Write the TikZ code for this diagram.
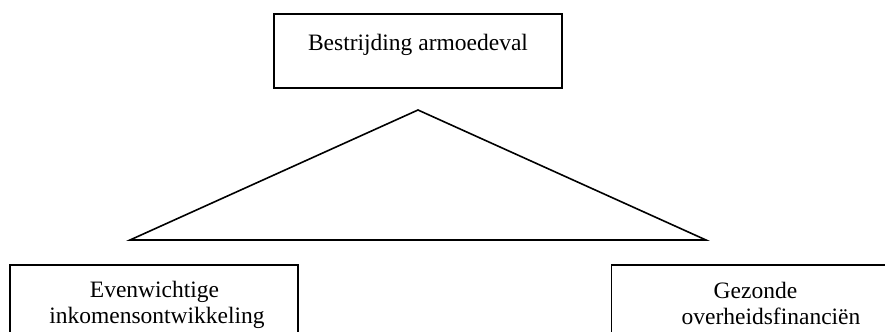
\documentclass[tikz,border=0pt]{standalone}
\usepackage{fontspec}
\setmainfont{Liberation Serif}
\begin{document}
\begin{tikzpicture}[x=0.5pt,y=-0.5pt,
  box/.style={draw,line width=0.8pt,rectangle,inner sep=0pt,minimum width=144pt},
  lbl/.style={anchor=base,inner sep=0pt,font=\fontsize{11.75}{13.5}\selectfont}]
\useasboundingbox (0,0) rectangle (885,332);
\clip (0,0) rectangle (885,332);
% top box
\node[box,minimum height=37pt] (top) at (418,51) {};
\node[lbl] (toptxt) at (418,50.5) {Bestrijding armoedeval};
% triangle
\coordinate (apex) at (418,110);
\coordinate (bl) at (130,240);
\coordinate (br) at (706,240);
\draw[line width=0.8pt,line join=miter] (apex) -- (bl) -- (br) -- cycle;
% bottom left box
\node[box,minimum height=40pt] (left) at (154,305) {};
\node[lbl] (l1) at (154.5,297) {Evenwichtige};
\node[lbl] (l2) at (157,323) {inkomensontwikkeling};
% bottom right box
\node[box,minimum height=40pt] (right) at (755.5,305) {};
\node[lbl] (r1) at (755.5,298) {Gezonde};
\node[lbl] (r2) at (771,324) {overheidsfinanciën};
\end{tikzpicture}
\end{document}
